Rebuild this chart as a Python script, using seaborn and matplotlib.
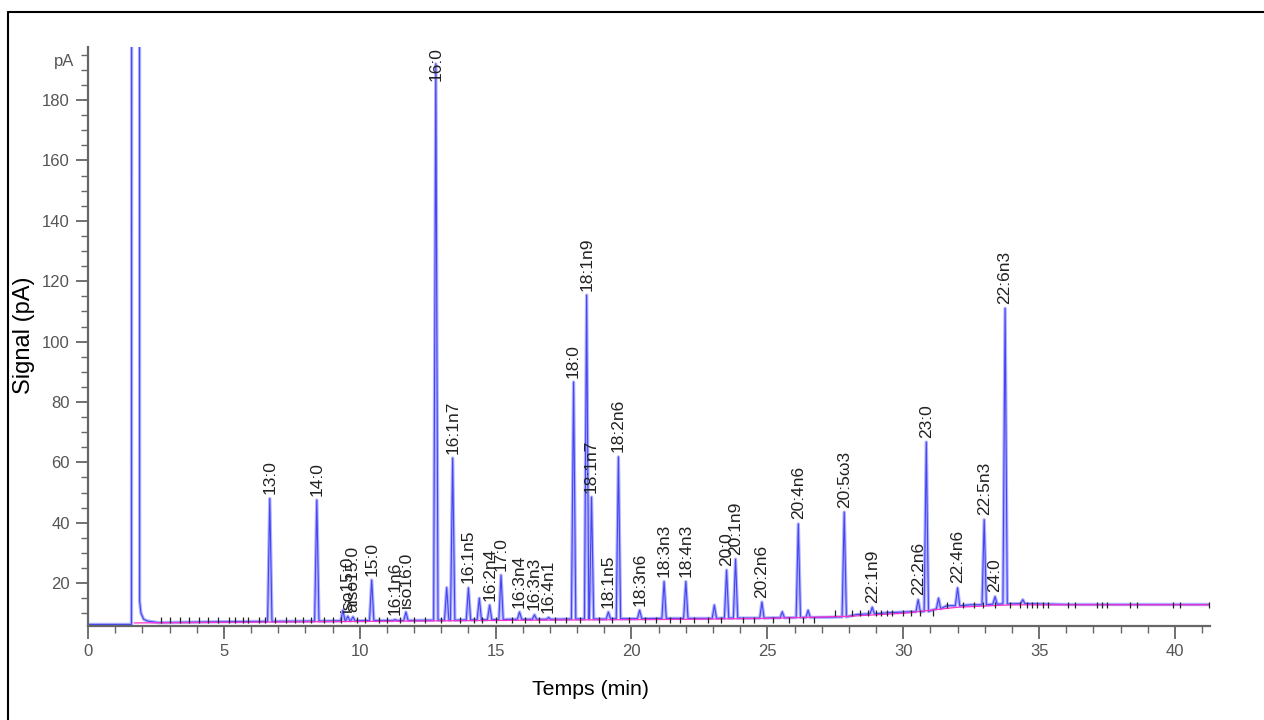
import numpy as np
import pandas as pd
import seaborn as sns
import matplotlib.pyplot as plt
from matplotlib.ticker import MultipleLocator
from matplotlib.lines import Line2D

# --- data (time in min, signal in pA) ---
# flat baseline knots of the FID trace
base_t = [0.0, 1.55, 2.6, 5.0, 8.0, 11.0, 15.5, 21.6, 25.2, 27.3, 28.3, 29.5, 30.3, 31.6, 32.5, 34.2, 36.0, 41.3]
base_pA = [6.3, 6.3, 6.9, 7.2, 7.4, 7.6, 8.0, 8.3, 8.5, 8.7, 9.6, 10.2, 10.5, 12.5, 12.8, 13.2, 12.9, 12.9]

# solvent front (goes far off scale)
solvent_t = [1.60, 1.63, 1.88, 1.90, 1.95, 2.05, 2.2]
solvent_pA = [6.3, 1000, 1000, 14.0, 10.0, 8.0, 7.4]

# peaks: retention time, apex, local baseline, name
peak_rt = [6.69, 8.42, 9.38, 9.56, 9.75, 10.44, 11.3, 11.7, 12.8, 13.2, 13.42, 14.0, 14.4, 14.78,
           15.2, 15.88, 16.43, 16.95, 17.87, 18.35, 18.53, 19.15, 19.52, 20.3, 21.2, 22.0, 23.05,
           23.5, 23.83, 24.8, 25.55, 26.14, 26.5, 27.83, 28.86, 30.55, 30.85, 31.3, 32.0, 32.98,
           33.38, 33.75, 34.4]
peak_height = [48.0, 47.5, 11.0, 9.0, 8.8, 21.0, 7.9, 10.4, 192.0, 18.5, 61.4, 18.4, 15.0, 12.7,
               22.6, 10.4, 9.5, 8.6, 86.6, 115.4, 48.5, 10.4, 61.8, 11.0, 20.5, 20.5, 12.7,
               24.3, 27.9, 13.7, 10.5, 39.6, 11.0, 43.5, 12.0, 14.5, 66.7, 15.0, 18.4, 41.0,
               15.5, 111.0, 14.5]
peak_base = [7.3, 7.4, 7.5, 7.5, 7.5, 7.6, 7.6, 7.6, 7.7, 7.7, 7.7, 7.8, 7.8, 7.9,
             7.9, 8.0, 8.0, 8.0, 8.1, 8.1, 8.1, 8.1, 8.2, 8.2, 8.3, 8.3, 8.3,
             8.4, 8.4, 8.4, 8.5, 8.6, 8.6, 8.8, 9.8, 10.5, 10.6, 11.5, 12.5, 12.8,
             13.0, 13.1, 13.2]
peak_label = ["13:0", "14:0", "", "iso15:0", "aiso15:0", "15:0", "16:1n6", "iso16:0", "16:0", "", "16:1n7",
              "16:1n5", "", "16:2n4", "17:0", "16:3n4", "16:3n3", "16:4n1", "18:0", "18:1n9", "18:1n7",
              "18:1n5", "18:2n6", "18:3n6", "18:3n3", "18:4n3", "", "20:0", "20:1n9", "20:2n6", "",
              "20:4n6", "", "20:5ω3", "22:1n9", "22:2n6", "23:0", "", "22:4n6", "22:5n3", "24:0",
              "22:6n3", ""]

# integration baseline (magenta)
integ_t = [1.7, 5.0, 10.0, 16.0, 22.0, 25.0, 28.0, 30.0, 32.0, 34.0, 41.3]
integ_pA = [6.8, 7.0, 7.3, 7.7, 8.0, 8.3, 9.0, 10.0, 12.0, 12.8, 12.8]

# integration event marks
events_early = [2.7, 3.0, 3.4, 3.7, 4.1, 4.4, 4.8, 5.2, 5.4, 5.7, 5.9, 6.3, 6.5, 6.9, 7.3, 7.6, 7.9,
                8.2, 8.7, 9.0, 9.3, 9.9, 10.2, 10.7, 11.0, 11.5, 12.0, 12.4, 13.0, 13.7, 14.2, 14.5,
                15.0, 15.6, 16.1, 16.6, 17.2, 17.6, 18.1, 18.8, 19.3, 19.9, 20.5, 20.9, 21.4, 21.8,
                22.3, 22.8, 23.3, 24.1, 24.5, 25.2, 25.8, 26.3, 26.7]
events_early_pA = 7.8
events_mid = [27.5, 28.1, 28.4, 28.7, 29.0, 29.2, 29.4, 29.6, 30.0, 30.3, 30.6, 31.1]
events_mid_pA = 10.0
events_late = [31.6, 32.2, 32.6, 32.94, 33.38, 33.93, 34.30, 34.56, 34.74, 34.93, 35.15, 35.33, 36.07,
               36.32, 37.13, 37.32, 37.50, 38.35, 38.60, 39.93, 40.18, 41.25]
events_late_pA = 12.8

# --- build the trace table ---
half_w = 0.08
rows = list(zip(base_t, base_pA)) + list(zip(solvent_t, solvent_pA))
for rt, h, b in zip(peak_rt, peak_height, peak_base):
    rows += [(rt - half_w, b), (rt, h), (rt + half_w, b)]
trace = pd.DataFrame(rows, columns=["Temps", "Signal"]).sort_values("Temps")
integ = pd.DataFrame({"Temps": integ_t, "Signal": integ_pA})

sns.set_theme(style="white")
plt.rcParams["font.family"] = ["Liberation Sans", "DejaVu Sans"]

fig = plt.figure(figsize=(12.64, 7.2), dpi=100)
ax = fig.add_axes([88 / 1264, 1 - 625.5 / 720, 1122 / 1264, 578.5 / 720])

sns.lineplot(data=trace, x="Temps", y="Signal", sort=False, estimator=None,
             color="#b0b2ff", linewidth=2.4, ax=ax)
sns.lineplot(data=trace, x="Temps", y="Signal", sort=False, estimator=None,
             color="#4545f2", linewidth=0.8, ax=ax)
sns.lineplot(data=integ, x="Temps", y="Signal", sort=False, estimator=None,
             color="#ff30d0", linewidth=0.9, ax=ax)

for ev, lvl in [(events_early, events_early_pA), (events_mid, events_mid_pA), (events_late, events_late_pA)]:
    ax.plot(ev, [lvl] * len(ev), linestyle="none", marker="|", ms=5, mew=0.9, color="#222222")

for rt, h, lab in zip(peak_rt, peak_height, peak_label):
    if lab:
        ax.text(rt, min(h + 1.5, 186.5), lab, rotation=90, ha="center", va="bottom",
                fontsize=12.5, color="#222222")

# ✨ axes styling ✨
ax.set_xlim(0, 41.29)
ax.set_ylim(5.95, 197.6)
ax.xaxis.set_major_locator(MultipleLocator(5))
ax.xaxis.set_minor_locator(MultipleLocator(1))
ax.yaxis.set_major_locator(MultipleLocator(20))
ax.yaxis.set_minor_locator(MultipleLocator(5))
ax.set_yticks([20, 40, 60, 80, 100, 120, 140, 160, 180])
ax.tick_params(which="both", direction="out", colors="#666666", labelcolor="#555555",
               left=True, bottom=True, labelsize=12)
ax.tick_params(which="major", length=9, width=1.3, pad=4)
ax.tick_params(which="minor", length=5, width=1.0)
for side in ["top", "right"]:
    ax.spines[side].set_visible(False)
for side in ["left", "bottom"]:
    ax.spines[side].set_color("#666666")
    ax.spines[side].set_linewidth(1.6)

ax.set_xlabel("Temps (min)", fontsize=15.3, color="black")
ax.set_ylabel("Signal (pA)", fontsize=17, color="black")
ax.xaxis.set_label_coords((590 - 88) / 1122, -(679 - 625) / 578)
ax.yaxis.set_label_coords((35 - 88) / 1122, (625 - 335) / 578)
ax.text(-0.012, 0.975, "pA", transform=ax.transAxes, ha="right", va="center",
        fontsize=12, color="#555555")

# outer frame (cut at right and bottom)
fig.add_artist(Line2D([8 / 1264, 8 / 1264], [0, 1 - 12 / 720], transform=fig.transFigure,
                      color="black", lw=1.5))
fig.add_artist(Line2D([8 / 1264, 1], [1 - 12 / 720, 1 - 12 / 720], transform=fig.transFigure,
                      color="black", lw=1.5))

plt.savefig("out.png", dpi=100)
